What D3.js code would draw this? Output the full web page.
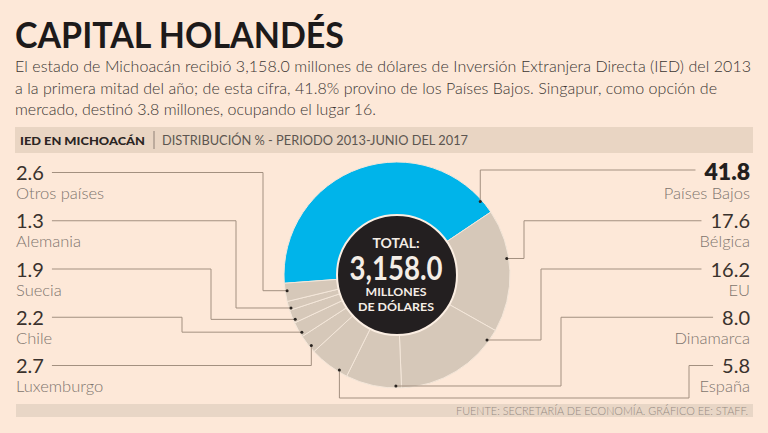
<!DOCTYPE html>
<html lang="es">
<head>
<meta charset="UTF-8">
<title>Capital holandés</title>
<script src="https://d3js.org/d3.v7.min.js"></script>
<style>
    body{
        margin:0;
        background:#fde8d8;
    }
    svg{
        display:block;
        font-family:Lato, "Open Sans", sans-serif;
    }
    .leader{
        fill:none;
        stroke:#a39080;
        stroke-width:1;
    }
</style>
</head>
<body>
<svg id="chart" width="768" height="433"></svg>
<script>
// IED en Michoacán, distribución %, 2013 - junio 2017
const countries = ['Países Bajos','Bélgica','EU','Dinamarca','España','Luxemburgo','Chile','Suecia','Alemania','Otros países'];
const shares = [41.8, 17.6, 16.2, 8.0, 5.8, 2.7, 2.2, 1.9, 1.3, 2.6];
const rightSide = ['Países Bajos','Bélgica','EU','Dinamarca','España'];
const leftSide = ['Otros países','Alemania','Suecia','Chile','Luxemburgo'];
const totalLabel = '3,158.0';

const bodyLines = [
    'El estado de Michoacán recibió 3,158.0 millones de dólares de Inversión Extranjera Directa (IED) del 2013',
    'a la primera mitad del año; de esta cifra, 41.8% provino de los Países Bajos. Singapur, como opción de',
    'mercado, destinó 3.8 millones, ocupando el lugar 16.'
];

// layout of the leader lines (where they bend, where the dot sits in the slice)
const leaderLayout = {
    'Países Bajos': {kind:'drop', t:0.95},
    'Bélgica': {kind:'elbow', x:524, t:0.4},
    'EU': {kind:'elbow', x:541, t:0.11},
    'Dinamarca': {kind:'elbow', x:561, t:0.1},
    'España': {kind:'under', x:689, y:398, t:0.23},
    'Luxemburgo': {kind:'drop', t:0.33},
    'Chile': {kind:'elbow', x:182, t:0.25},
    'Suecia': {kind:'elbow', x:211, t:0.22},
    'Alemania': {kind:'elbow', x:236, t:0.2},
    'Otros países': {kind:'elbow', x:263, t:0.58}
};

const svg = d3.select('#chart');
const cx = 397, cy = 275, R = 113, r0 = 59;

// title + intro
svg.append('text')
    .attr('x',15).attr('y',48)
    .attr('font-size',37).attr('font-weight',700)
    .attr('fill','#1d1a1a')
    .attr('textLength',329).attr('lengthAdjust','spacingAndGlyphs')
    .text('CAPITAL HOLANDÉS');

const bodyWidths = [736, 702, 361];
svg.selectAll('.body')
    .data(bodyLines).enter()
    .append('text')
    .attr('class','body')
    .attr('x',15)
    .attr('y',(d,i)=>72+i*21.7)
    .attr('font-size',16).attr('font-weight',300)
    .attr('fill','#3b3633')
    .attr('textLength',(d,i)=>bodyWidths[i])
    .text(d=>d);

// header bar
svg.append('rect').attr('x',15).attr('y',127).attr('width',738).attr('height',26).attr('fill','#e9d5c3');
svg.append('text')
    .attr('x',20).attr('y',144.5)
    .attr('font-size',11).attr('font-weight',900)
    .attr('fill','#2b2523')
    .attr('textLength',125).attr('lengthAdjust','spacingAndGlyphs')
    .text('IED EN MICHOACÁN');
svg.append('line').attr('x1',154).attr('x2',154).attr('y1',131).attr('y2',149).attr('stroke','#8f8076');
svg.append('text')
    .attr('x',162).attr('y',144.5)
    .attr('font-size',12.5)
    .attr('fill','#5c5550')
    .attr('textLength',306).attr('lengthAdjust','spacingAndGlyphs')
    .text('DISTRIBUCIÓN % - PERIODO 2013-JUNIO DEL 2017');

// footer bar
svg.append('rect').attr('x',16).attr('y',404).attr('width',737).attr('height',13).attr('fill','#e8d6c6');
svg.append('text')
    .attr('x',748).attr('y',415)
    .attr('text-anchor','end')
    .attr('font-size',11.5).attr('font-weight',300)
    .attr('fill','#958a82')
    .attr('textLength',292).attr('lengthAdjust','spacingAndGlyphs')
    .text('FUENTE: SECRETARÍA DE ECONOMÍA. GRÁFICO EE: STAFF.');

// donut
const start = -94.2*Math.PI/180;
const pie = d3.pie().sort(null).value(d=>d.v).startAngle(start).endAngle(start+2*Math.PI);
const arcs = pie(countries.map((c,i)=>({name:c, v:shares[i]})));
const arc = d3.arc().innerRadius(r0).outerRadius(R);

const g = svg.append('g').attr('transform','translate('+cx+','+cy+')');
g.selectAll('path')
    .data(arcs).enter()
    .append('path')
    .attr('d',arc)
    .attr('fill',d=>d.data.name==='Países Bajos'?'#00b4ea':'#d6c8b9')
    .attr('stroke','#f4e7da')
    .attr('stroke-width',1);

g.append('circle').attr('r',r0+1).attr('fill','#231f20').attr('stroke','#fbeee2').attr('stroke-width',2);
const center = [
    {t:'TOTAL:', y:-27, s:14, w:null},
    {t:totalLabel, y:5, s:32, w:93},
    {t:'MILLONES', y:21, s:11.5, w:61},
    {t:'DE DÓLARES', y:36, s:11.5, w:76}
];
g.selectAll('.ctr')
    .data(center).enter()
    .append('text')
    .attr('class','ctr')
    .attr('x',-1).attr('y',d=>d.y)
    .attr('text-anchor','middle')
    .attr('font-size',d=>d.s).attr('font-weight',700)
    .attr('fill','#f4ede6')
    .each(function(d){ if(d.w) d3.select(this).attr('textLength',d.w).attr('lengthAdjust','spacingAndGlyphs'); })
    .text(d=>d.t);

// labels
const rowY = d3.scaleLinear().domain([0,4]).range([180,373]);
const byName = {};
arcs.forEach(a=>{ byName[a.data.name]=a; });

function dotOf(name){
    const a = byName[name];
    const ang = a.startAngle + leaderLayout[name].t*(a.endAngle-a.startAngle);
    return [cx+(R-2)*Math.sin(ang), cy-(R-2)*Math.cos(ang)];
}
const fmt = d3.format('.1f');

function drawSide(list, side){
    list.forEach((name,i)=>{
        const v = shares[countries.indexOf(name)];
        const big = name==='Países Bajos';
        const y = rowY(i);
        const x = side==='left' ? 16 : 750;
        const anchor = side==='left' ? 'start' : 'end';
        const num = svg.append('text')
            .attr('x',x).attr('y',y)
            .attr('text-anchor',anchor)
            .attr('font-size',big?23:20).attr('font-weight',big?800:400)
            .attr('fill',big?'#231f1e':'#3a322d')
            .text(fmt(v));
        svg.append('text')
            .attr('x',x).attr('y',y+19)
            .attr('text-anchor',anchor)
            .attr('font-size',16.5).attr('font-weight',300)
            .attr('fill','#7e756e')
            .text(name);

        const w = num.node().getComputedTextLength();
        const lx = side==='left' ? x+w+8 : x-w-9;
        const ly = y-(big?10:7.5);
        const L = leaderLayout[name];
        const p = dotOf(name);
        let path;
        if(L.kind==='drop') path = d3.line()([[lx,ly],[p[0],ly],p]);
        else if(L.kind==='elbow') path = d3.line()([[lx,ly],[L.x,ly],[L.x,p[1]],p]);
        else path = d3.line()([p,[p[0],L.y],[L.x,L.y],[L.x,ly],[lx,ly]]);
        svg.append('path').attr('class','leader').attr('d',path);
        svg.append('circle').attr('cx',p[0]).attr('cy',p[1]).attr('r',1.5).attr('fill','#2a2420');
    });
}
drawSide(leftSide,'left');
drawSide(rightSide,'right');
</script>
</body>
</html>
